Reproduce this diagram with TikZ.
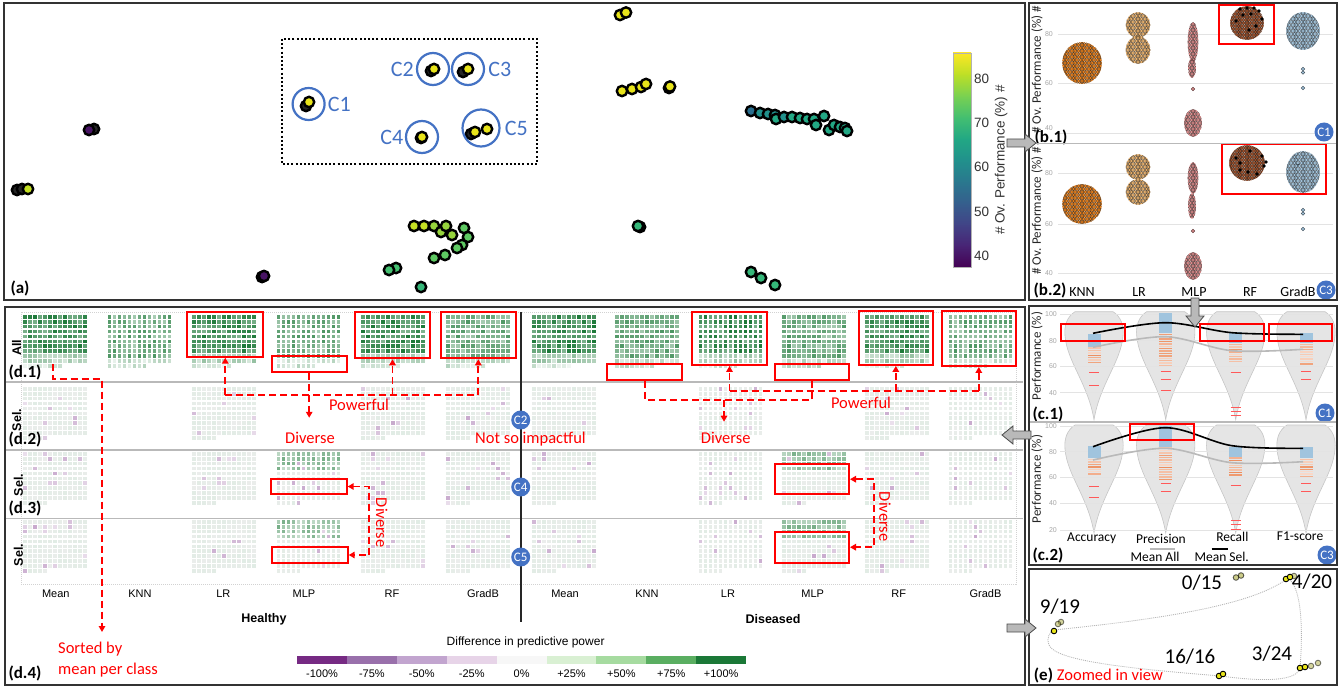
\documentclass[tikz,border=0pt]{standalone}
\usepackage{fontspec}
\setmainfont{Carlito}
\newfontfamily\arialfont{Liberation Sans}
\usetikzlibrary{arrows.meta,positioning,calc}

% colours
\definecolor{cblue}{RGB}{68,114,196}
\definecolor{dg}{RGB}{27,120,55}
\definecolor{pp}{RGB}{118,42,131}
\definecolor{vir0}{HTML}{440154}
\definecolor{vir1}{HTML}{482475}
\definecolor{vir2}{HTML}{414487}
\definecolor{vir3}{HTML}{355F8D}
\definecolor{vir4}{HTML}{2A788E}
\definecolor{vir5}{HTML}{21918C}
\definecolor{vir6}{HTML}{22A884}
\definecolor{vir7}{HTML}{44BF70}
\definecolor{vir8}{HTML}{7AD151}
\definecolor{vir9}{HTML}{BDDF26}
\definecolor{vir10}{HTML}{FDE725}
\definecolor{yel}{RGB}{232,228,26}
\definecolor{ygr}{RGB}{196,224,36}
\definecolor{lime}{RGB}{150,212,60}
\definecolor{grn}{RGB}{94,201,98}
\definecolor{grn2}{RGB}{68,191,112}
\definecolor{tgrn}{RGB}{53,183,121}
\definecolor{teal}{RGB}{34,168,132}
\definecolor{teal2}{RGB}{33,145,140}
\definecolor{bteal}{RGB}{42,110,142}
\definecolor{purp}{RGB}{72,20,100}
\definecolor{knnc}{RGB}{232,128,28}
\definecolor{lrc}{RGB}{236,180,112}
\definecolor{mlpc}{RGB}{222,142,142}
\definecolor{rfc}{RGB}{158,80,42}
\definecolor{gbc}{RGB}{164,198,222}
\definecolor{barblue}{RGB}{160,196,222}
\definecolor{barorange}{RGB}{232,112,52}
\definecolor{olive}{RGB}{170,170,60}
\definecolor{prg1}{HTML}{762A83}
\definecolor{prg2}{HTML}{9970AB}
\definecolor{prg3}{HTML}{C2A5CF}
\definecolor{prg4}{HTML}{E7D4E8}
\definecolor{prg5}{HTML}{F7F7F7}
\definecolor{prg6}{HTML}{D9F0D3}
\definecolor{prg7}{HTML}{A6DBA0}
\definecolor{prg8}{HTML}{5AAE61}
\definecolor{prg9}{HTML}{1B7837}

\newcommand\fsz[1]{\fontsize{#1}{#1}\selectfont}

\tikzset{
  panel/.style={draw=black!80, line width=1.6pt},
  split/.style={draw=gray!55, line width=1.4pt},
  spt/.style={draw=black, line width=2.4pt},
  ept/.style={draw=black, line width=0.9pt},
  ccirc/.style={circle, draw=cblue, line width=2.2pt, inner sep=0pt},
  clabel/.style={text=cblue, font=\fsz{22}, inner sep=0pt},
  badge/.style={circle, fill=cblue, text=white, inner sep=0pt, minimum size=19pt, font=\fsz{13}},
  plabel/.style={font=\bfseries\fsz{17}, inner sep=0pt},
  redbox/.style={draw=red, line width=2pt, inner sep=0pt},
  reddash/.style={draw=red, line width=1.8pt, dash pattern=on 7pt off 4pt},
  redtip/.style={-{Triangle[length=6pt,width=6.5pt]}},
  redboth/.style={{Triangle[length=6pt,width=6.5pt]}-{Triangle[length=6pt,width=6.5pt]}},
  ann/.style={text=red, font=\fsz{16.5}, inner sep=0pt},
  garrow/.style={fill=gray!55, draw=black!70, line width=0.8pt},
  violinst/.style={fill=gray!20, draw=gray!45, line width=0.6pt},
  tick/.style={text=gray!70, font=\arialfont\fsz{7}, inner sep=0pt},
  axl/.style={font=\fsz{13}, inner sep=0pt, text=black!85},
  mlab/.style={font=\fsz{14}, inner sep=0pt},
  elab/.style={font=\fsz{21}, inner sep=0pt},
  clab/.style={font=\arialfont\fsz{11}, inner sep=0pt},
  rowlab/.style={font=\arialfont\bfseries\fsz{12.5}, rotate=90, inner sep=0pt},
  gline/.style={draw=gray!22, line width=0.6pt},
}

% scatter point of the projection
\newcommand\spt[3]{\filldraw[spt, fill=#3] (#1,#2) circle (5.2);}
% small point of the zoomed view
\newcommand\ept[4]{\filldraw[ept, fill=#3, opacity=#4] (#1,#2) circle (2.8);}
% beeswarm blob: cx, cy, rx, ry, colour
\newcommand\swarm[5]{%
  \begin{scope}
    \clip (#1,#2) ellipse ({#3+0.8} and {#4+0.8});
    \pgfmathtruncatemacro\swx{#3/3.4+1}
    \pgfmathtruncatemacro\swy{#4/3.0+1}
    \foreach \swi in {-\swx,...,\swx}{
      \foreach \swj in {-\swy,...,\swy}{
        \filldraw[fill=#5, draw=#5!45!black, line width=0.4pt]
          ({#1+\swi*3.4+1.7*mod(\swj,2)},{#2+\swj*3.0}) circle (1.75);
      }}
  \end{scope}}
\newcommand\bdot[2]{\fill[black] (#1,#2) circle (1.8);}
% violin: cx, top
\newcommand\violin[2]{%
  \filldraw[violinst] ({#1-19},#2) .. controls ({#1-27},{#2+5}) and ({#1-30},{#2+14}) .. ({#1-29},{#2+24})
    .. controls ({#1-27},{#2+50}) and ({#1-6},{#2+72}) .. (#1,{#2+108})
    .. controls ({#1+6},{#2+72}) and ({#1+27},{#2+50}) .. ({#1+29},{#2+24})
    .. controls ({#1+30},{#2+14}) and ({#1+27},{#2+5}) .. ({#1+19},#2) -- cycle;}
% stacked bars in a violin: cx, blue top, blue bottom, orange bottom
\newcommand\vbars[4]{%
  \fill[barblue] ({#1-6.5},#2) rectangle ({#1+6.5},#3);
  \pgfmathtruncatemacro\nbar{(#4-#3)/2.4}
  \foreach \k in {0,...,\nbar}{
    \pgfmathsetmacro\bp{25+55*rnd}
    \fill[fill=barorange!\bp!white] ({#1-6.5},{#3+0.6+2.4*\k}) rectangle ({#1+6.5},{#3+2.0+2.4*\k});
  }}
\newcommand\vtick[2]{\draw[red!65, line width=1pt] ({#1-5},#2) -- ({#1+5},#2);}
% waffle grid: x0, y0, kind
\newcommand\dgrid[3]{%
  \foreach \gr in {0,...,10}{%
    \foreach \gc in {0,...,12}{%
      \pgfmathtruncatemacro\gskip{(\gr==10)&&(\gc>(#3>2 ? 4 : 7))}%
      \ifnum\gskip=0
      \ifcase#3\or
        \pgfmathsetmacro\gp{\gr<8 ? 55+45*rnd : (\gr<10 ? 18+30*rnd : 6+22*rnd)}%
        \def\gcol{dg!\gp!white}\or
        \pgfmathsetmacro\gp{\gr<9 ? 38+40*rnd : 10+25*rnd}%
        \def\gcol{dg!\gp!white}\or
        \pgfmathsetmacro\gp{15+70*rnd}%
        \def\gcol{dg!\gp!gray!14}\or
        \pgfmathsetmacro\gp{\gr<4 ? 25+35*rnd : 15+70*rnd}%
        \ifnum\gr<4 \def\gcol{dg!\gp!white}\else\def\gcol{dg!\gp!gray!14}\fi\fi
      \pgfmathtruncatemacro\gq{(#3>2)&&(rnd<0.06)}%
      \ifnum\gq=1 \pgfmathsetmacro\gp{15+25*rnd}\def\gcol{pp!\gp!white}\fi
      \fill[fill=\gcol] ({#1+5*\gc},{#2+4.9*\gr}) rectangle ++(3.6,3.6);
      \fi
    }}}
% grey block arrow: tip x, tip y, angle
\newcommand\grayarrow[3]{%
  \begin{scope}[shift={(#1,#2)}, rotate=#3]
    \filldraw[garrow] (0,0) -- (-11,-9) -- (-11,-4) -- (-29,-4) -- (-29,4) -- (-11,4) -- (-11,9) -- cycle;
  \end{scope}}

\begin{document}
\begin{tikzpicture}[x=1pt,y=-1pt]
\pgfmathsetseed{42}
\useasboundingbox (0,0) rectangle (1340,687);
\fill[white] (0,0) rectangle (1340,687);

%% ---------- (a) projection ----------
\draw[black, line width=2pt, dash pattern=on 2pt off 2.2pt] (282,39) rectangle (537,164);
\spt{94}{129}{black!85} \spt{89}{130}{purp}
\spt{17}{190}{black!85} \spt{22}{189}{black!85} \spt{28}{189}{ygr}
\spt{262}{277}{black!85} \spt{264}{276}{purp}
\spt{306}{106}{black!85} \spt{309}{102}{yel}
\spt{431}{71}{black!85} \spt{434}{69}{yel}
\spt{463}{72}{black!85} \spt{468}{69}{yel}
\spt{421}{138}{black!85} \spt{422}{137}{yel}
\spt{471}{134}{black!85} \spt{475}{132}{yel} \spt{487}{129}{yel}
\spt{620}{15}{yel} \spt{626}{12.5}{yel}
\spt{622}{91}{yel} \spt{632}{89}{yel} \spt{641}{87}{yel} \spt{646}{84}{yel}
\spt{669}{88}{black!85} \spt{670}{86.5}{yel}
\foreach \px/\py/\pc in {751/111/bteal,760/113/teal2,768/114/teal2,775/115/teal2,776/119/teal,
  784/117/teal2,792/117/teal,800/118/teal,807/119/teal,814/119/teal,816/125/teal,824/116/teal,
  829/130/teal,834/125/teal,840/127/teal,845/128/teal,847/131/teal}
  {\spt{\px}{\py}{\pc}}
\spt{640}{227}{black!85} \spt{638}{226}{tgrn}
\spt{751}{272}{tgrn} \spt{761}{278}{tgrn} \spt{775}{285}{tgrn}
\foreach \px/\py/\pc in {414/226/ygr,424/226/ygr,434/226/lime,441/232/lime,446/226/lime,452/235/lime,
  464/228/grn,468/237/grn,462/245/grn,457/248/grn,445/255/grn,434/258/grn,396/268/grn2,389/270/grn2,421/287/tgrn}
  {\spt{\px}{\py}{\pc}}
\node[ccirc, minimum size=32pt] (cc1) at (308.6,104) {};
\node[clabel, right=2pt of cc1] (lc1) {C1};
\node[ccirc, minimum size=32pt] (cc2) at (433,69) {};
\node[clabel, left=2pt of cc2] (lc2) {C2};
\node[ccirc, minimum size=32pt] (cc3) at (468,69) {};
\node[clabel, right=3pt of cc3] (lc3) {C3};
\node[ccirc, minimum size=32pt] (cc4) at (422,137) {};
\node[clabel, left=1.5pt of cc4] (lc4) {C4};
\node[ccirc, minimum size=37pt] (cc5) at (481,128) {};
\node[clabel, right=4pt of cc5] (lc5) {C5};
% colour bar
\foreach \i [evaluate=\i as \j using int(\i+1)] in {0,...,9}
  {\shade[bottom color=vir\i, top color=vir\j] (953,{267.3-21.4*\i}) rectangle (971,{266.7-21.4*(\i+1)});}
\draw[gray!60, line width=0.5pt] (953,53) rectangle (971,267);
\foreach \v/\vy in {80/79,70/123,60/167,50/212,40/256}
  {\node[font=\arialfont\fsz{13.5}, anchor=west, inner sep=0pt, text=black!80] at (974,\vy) {\v};}
\node[font=\arialfont\fsz{13.5}, rotate=90, inner sep=0pt, text=black!80] at (1001,160) {\# Ov. Performance (\%) \#};
\node[plabel] at (20,288) {(a)};
\draw[panel] (4,3) rectangle (1025,300);

%% ---------- (b) beeswarms ----------
\foreach \gy in {34,83,133,173,224,273} {\draw[gline] (1058,\gy) -- (1333,\gy);}
\foreach \t/\ty in {80/34,60/83,40/128,80/173,60/224,40/273}
  {\node[tick, anchor=east] at (1053,\ty) {\t};}
\swarm{1082}{63}{19}{20}{knnc}
\swarm{1138}{25}{11.5}{12}{lrc}
\swarm{1138}{50}{11.5}{13}{lrc}
\swarm{1193}{42}{4.5}{19}{mlpc}
\swarm{1192}{68}{3.2}{9}{mlpc}
\filldraw[fill=mlpc, draw=mlpc!45!black, line width=0.4pt] (1193,89) circle (1.75);
\swarm{1193}{123}{8}{13}{mlpc}
\swarm{1247}{23}{16}{16}{rfc}
\foreach \dx/\dy in {1240/9,1247/8,1254/8,1259/11,1251/14,1243/15,1262/19,1236/21,1256/26,1249/30}
  {\bdot{\dx}{\dy}}
\swarm{1303}{31}{16}{18}{gbc}
\foreach \dy in {69,72.5,88}
  {\filldraw[fill=gbc, draw=gbc!45!black, line width=0.4pt] (1303,\dy) circle (1.75);}
\swarm{1082}{204}{19}{19}{knnc}
\swarm{1138}{167}{11.5}{12}{lrc}
\swarm{1138}{192}{11.5}{12}{lrc}
\swarm{1193}{178}{4.5}{15}{mlpc}
\swarm{1192}{206}{3.2}{12}{mlpc}
\filldraw[fill=mlpc, draw=mlpc!45!black, line width=0.4pt] (1193,231) circle (1.75);
\swarm{1193}{266}{8}{13}{mlpc}
\swarm{1247}{163}{17}{17}{rfc}
\foreach \dx/\dy in {1236/158,1240/163,1262/156,1264/166,1248/172,1257/174,1240/170,1250/151,1266/162,1298/164}
  {\bdot{\dx}{\dy}}
\swarm{1303}{172}{16}{20}{gbc}
\foreach \dy in {210,213.5,229}
  {\filldraw[fill=gbc, draw=gbc!45!black, line width=0.4pt] (1303,\dy) circle (1.75);}
\draw[redbox] (1219,5) rectangle (1274.3,44);
\draw[redbox] (1222.3,144.5) rectangle (1326,194.3);
\begin{scope}
  \clip (1030,4) rectangle (1336,143);
  \node[axl, rotate=90] at (1037,70) {\# Ov. Performance (\%) \#};
\end{scope}
\node[axl, rotate=90] at (1037,211) {\# Ov. Performance (\%) \#};
\foreach \m/\mx in {KNN/1082,LR/1139,MLP/1194,RF/1250,GradB/1298}
  {\node[mlab] at (\mx,292) {\m};}
\node[plabel] at (1051,137) {(b.1)};
\node[plabel] at (1050,290) {(b.2)};
\node[badge] (bb1) at (1324,132) {C1};
\node[badge] (bb3) at (1326,290) {C3};
\draw[split] (1030,143.5) -- (1336,143.5);
\draw[panel] (1029,3) rectangle (1337,300);

%% ---------- (c) violins ----------
\foreach \vx in {1094,1165.7,1235.7,1306} {\violin{\vx}{311.7} \violin{\vx}{425}}
\foreach \gy in {314,340.7,366,392.7,426,451.7,477,503,530} {\draw[gline] (1060,\gy) -- (1333,\gy);}
\foreach \t/\ty in {100/314,80/340.7,60/366,40/392.7,100/426,80/451.7,60/477,40/503,20/530}
  {\node[tick, anchor=east] at (1057,\ty) {\t};}
\vbars{1094}{334}{346.7}{363}
\vbars{1165.7}{313}{333}{365}
\vbars{1235.7}{331.7}{343.3}{361.7}
\vbars{1306}{333}{343.3}{363.3}
\vbars{1094}{445.7}{458.3}{475}
\vbars{1165.7}{426}{446.7}{478}
\vbars{1235.7}{446.7}{456.7}{475}
\vbars{1306}{446.7}{458.3}{476.7}
\foreach \tx/\ty in {1094/372.7,1094/385,1165.7/371.7,1165.7/379,1165.7/390,1235.7/372.7,1235.7/407,
  1235.7/411,1235.7/415,1306/371.7,1306/379,1094/486.7,1094/497.3,1165.7/483,1165.7/491.7,
  1235.7/485,1235.7/520,1235.7/524,1235.7/529,1306/483,1306/491.7}
  {\vtick{\tx}{\ty}}
\draw[gray!55, line width=1.6pt] plot[smooth, tension=0.55] coordinates {(1093,347.3) (1165,336.7) (1232,350.7) (1303,349.3)};
\draw[black, line width=1.6pt] plot[smooth, tension=0.55] coordinates {(1093,333.3) (1165,322.7) (1232,332.7) (1303,334.3)};
\draw[gray!55, line width=1.6pt] plot[smooth, tension=0.55] coordinates {(1093,460) (1165,448.3) (1232,462.7) (1303,461.7)};
\draw[black, line width=1.6pt] plot[smooth, tension=0.55] coordinates {(1093,446.7) (1165,427.7) (1232,445.7) (1303,448.3)};
\draw[redbox] (1061,324) rectangle (1125,340.7);
\draw[redbox] (1200,324) rectangle (1264.3,340.7);
\draw[redbox] (1269.3,324) rectangle (1332.3,340.7);
\draw[redbox] (1130,424) rectangle (1194.3,440);
\node[axl, rotate=90] at (1037,356) {Performance (\%)};
\node[axl, rotate=90] at (1037,479) {Performance (\%)};
\foreach \m/\mx/\my in {Accuracy/1091.7/538.3,Precision/1161/539.3,Recall/1232.3/536.7,F1-score/1300/536.7}
  {\node[mlab, font=\fsz{13.5}] at (\mx,\my) {\m};}
\draw[gray!55, line width=2pt] (1150,549) -- (1175,549);
\node[mlab, font=\fsz{13.5}] at (1155,557) {Mean All};
\draw[black, line width=2.2pt] (1211.7,549) -- (1228,549);
\node[mlab, font=\fsz{13.5}] at (1221.7,557) {Mean Sel.};
\node[plabel] at (1048,414) {(c.1)};
\node[plabel] at (1048,555) {(c.2)};
\node[badge] (bc1) at (1325,413) {C1};
\node[badge] (bc3) at (1327,555) {C3};
\draw[split] (1030,422) -- (1336,422);
\draw[panel] (1029,306) rectangle (1337,565);

%% ---------- (e) zoomed in view ----------
\coordinate (e919) at (1054,630);
\coordinate (e420) at (1288,578);
\coordinate (e324) at (1300,668);
\coordinate (e1616) at (1221,676);
\draw[gray!60, line width=0.8pt, dash pattern=on 1pt off 1pt] (e919) .. controls (1140,621) and (1250,608) .. (e420)
  .. controls (1302,588) and (1303,630) .. (e324) .. controls (1296,684) and (1250,680) .. (e1616)
  .. controls (1120,668) and (1055,660) .. (1049,645) .. controls (1046,637) and (1050,632) .. (e919);
\ept{1236}{577.5}{olive}{0.6} \ept{1241}{575.5}{olive}{0.6}
\ept{1294}{576}{olive}{0.5} \ept{1286}{579}{yel}{1} \ept{1290}{577}{yel}{1}
\ept{1061}{622}{olive}{0.5} \ept{1058}{624}{olive}{0.5} \ept{1054}{631}{yel}{1}
\ept{1219}{676}{yel}{1} \ept{1223}{674}{yel}{1}
\ept{1318}{663}{olive}{0.5} \ept{1311}{666}{olive}{0.5} \ept{1300}{668}{yel}{1} \ept{1305}{667}{yel}{1}
\node[elab] (n015) at (1202,583) {0/15};
\node[elab] (n420) at (1312,582) {4/20};
\node[elab] (n919) at (1060,607) {9/19};
\node[elab] (n1616) at (1190,657) {16/16};
\node[elab] (n324) at (1272,654) {3/24};
\node[plabel] at (1043.5,675) {(e)};
\node[ann, anchor=west] at (1056.7,675) {Zoomed in view};
\draw[panel] (1029,569) rectangle (1337,685);

%% ---------- (d) waffle grids ----------
\draw[gray!35, line width=0.6pt, dash pattern=on 1pt off 1pt] (21,312) rectangle (1016,584);
\foreach \i [evaluate=\i as \xl using 23+84.6*\i, evaluate=\i as \xr using 532+83.3*\i]
  in {0,...,5} {
  \pgfmathtruncatemacro\kd{mod(\i,2)==1 ? 2 : 1}
  \dgrid{\xl}{315}{\kd}
  \dgrid{\xr}{315}{\kd}}
\foreach \xl/\xr in {23/532,192.2/698.6,361.4/865.2,446/948.5}
  {\dgrid{\xl}{387}{3} \dgrid{\xr}{387}{3}
   \dgrid{\xl}{452}{3} \dgrid{\xr}{452}{3}
   \dgrid{\xl}{520}{3} \dgrid{\xr}{520}{3}}
\foreach \xl/\xr in {276.8/781.9}
  {\dgrid{\xl}{452}{4} \dgrid{\xr}{452}{4}
   \dgrid{\xl}{520}{4} \dgrid{\xr}{520}{4}}
\foreach \sy in {382,450,518.3} {\draw[split] (6,\sy) -- (1023,\sy);}
\draw[black!85, line width=1.2pt] (521,312) -- (521,622);
% red boxes, healthy
\node[redbox, minimum width=76pt, minimum height=45pt] (lrH) at (225.3,334.2) {};
\node[redbox, minimum width=75pt, minimum height=15.7pt] (mlpH) at (309.2,363.9) {};
\node[redbox, minimum width=75pt, minimum height=46.6pt] (rfH) at (392.5,335) {};
\node[redbox, minimum width=75.3pt, minimum height=46.6pt] (gbH) at (478.3,335) {};
\node[redbox, minimum width=76pt, minimum height=15pt] (m3H) at (308.7,486.5) {};
\node[redbox, minimum width=76pt, minimum height=16.6pt] (m4H) at (309.7,555) {};
% red boxes, diseased
\node[redbox, minimum width=75pt, minimum height=16pt] (knD) at (644.8,372) {};
\node[redbox, minimum width=74.4pt, minimum height=53.3pt] (lrD) at (729.5,338.3) {};
\node[redbox, minimum width=74.3pt, minimum height=16pt] (mlpD) at (812.2,372) {};
\node[redbox, minimum width=73.7pt, minimum height=54.3pt] (rfD) at (895.8,337.8) {};
\node[redbox, minimum width=74.3pt, minimum height=55.3pt] (gbD) at (978.8,338.3) {};
\node[redbox, minimum width=74pt, minimum height=30.3pt] (m3D) at (812,479.2) {};
\node[redbox, minimum width=74pt, minimum height=31pt] (m4D) at (812,547.2) {};
% dashed annotations, healthy
\coordinate (pwL) at (225.3,395);
\draw[reddash] (pwL) -- (pwL -| gbH.south);
\draw[reddash, redtip] (pwL) -- (lrH.south);
\draw[reddash, redtip] (pwL -| rfH.south) -- (rfH.south);
\draw[reddash, redtip] (pwL -| gbH.south) -- (gbH.south);
\draw[reddash, redtip] (mlpH.south) -- ++(0,45);
\node[ann] at (359,405) {Powerful};
\node[ann] at (310,438) {Diverse};
\draw[reddash, redboth] (m3H.east) -- ++(21.6,0) |- (m4H.east);
\node[ann, rotate=-90] at (381.7,522.7) {Diverse};
\coordinate (srt) at (52.7,364);
\draw[reddash, redtip] (srt) |- ++(49.3,15) -- (102,632);
\node[ann, anchor=west] at (58,649) {Sorted by};
\node[ann, anchor=west] at (58,670) {mean per class};
% dashed annotations, diseased
\coordinate (dvR) at (724,400);
\draw[reddash] (knD.south) |- (dvR) -| (mlpD.south);
\draw[reddash, redtip] (dvR) -- ++(0,21.7);
\coordinate (pwR) at (729.5,390.7);
\draw[reddash] (pwR) -- (pwR -| gbD.south);
\draw[reddash, redtip] (pwR) -- (lrD.south);
\draw[reddash, redtip] (pwR -| rfD.south) -- (rfD.south);
\draw[reddash, redtip] (pwR -| gbD.south) -- (gbD.south);
\node[ann] at (861,403.3) {Powerful};
\node[ann] at (725.7,437.7) {Diverse};
\draw[reddash, redboth] (m3D.east) -- ++(23.7,0) |- (m4D.east);
\node[ann, rotate=-90] at (885,516.7) {Diverse};
\node[ann] at (530.5,439) {Not so impactful};
\node[badge] (bd2) at (520.7,420) {C2};
\node[badge] (bd4) at (520.7,487) {C4};
\node[badge] (bd5) at (520.7,557) {C5};
% row labels
\node[rowlab] at (16.7,348) {All};
\node[rowlab] at (16.7,420) {Sel.};
\node[rowlab] at (18.3,485) {Sel.};
\node[rowlab] at (18.3,555) {Sel.};
\node[plabel] at (25,372) {(d.1)};
\node[plabel] at (25,439) {(d.2)};
\node[plabel] at (25,508) {(d.3)};
\node[plabel] at (25,673) {(d.4)};
% column labels
\foreach \m/\mx in {Mean/55.8,KNN/140,LR/223.4,MLP/304,RF/392,GradB/483,Mean/565,KNN/647,LR/728,MLP/812.7,RF/898.8,GradB/985.5}
  {\node[clab] at (\mx,594) {\m};}
\node[clab, font=\arialfont\bfseries\fsz{12.5}] at (264,619) {Healthy};
\node[clab, font=\arialfont\bfseries\fsz{12.5}] at (773,619) {Diseased};
% legend
\node[clab, font=\arialfont\fsz{12}] at (525.6,642) {Difference in predictive power};
\foreach \c [count=\i from 0] in {prg1,prg2,prg3,prg4,prg5,prg6,prg7,prg8,prg9}
  {\fill[\c] ({297+49.9*\i},656) rectangle ({297+49.9*(\i+1)},664);}
\foreach \t [count=\i from 0] in {-100\%,-75\%,-50\%,-25\%,0\%,+25\%,+50\%,+75\%,+100\%}
  {\node[clab] at ({322+49.9*\i},673.5) {\t};}
\draw[panel] (5,307) rectangle (1025,685);

%% ---------- grey arrows between views ----------
\grayarrow{1036}{143}{0}
\grayarrow{1195}{327}{-90}
\grayarrow{1002}{435}{180}
\grayarrow{1036}{628}{0}
\end{tikzpicture}
\end{document}
